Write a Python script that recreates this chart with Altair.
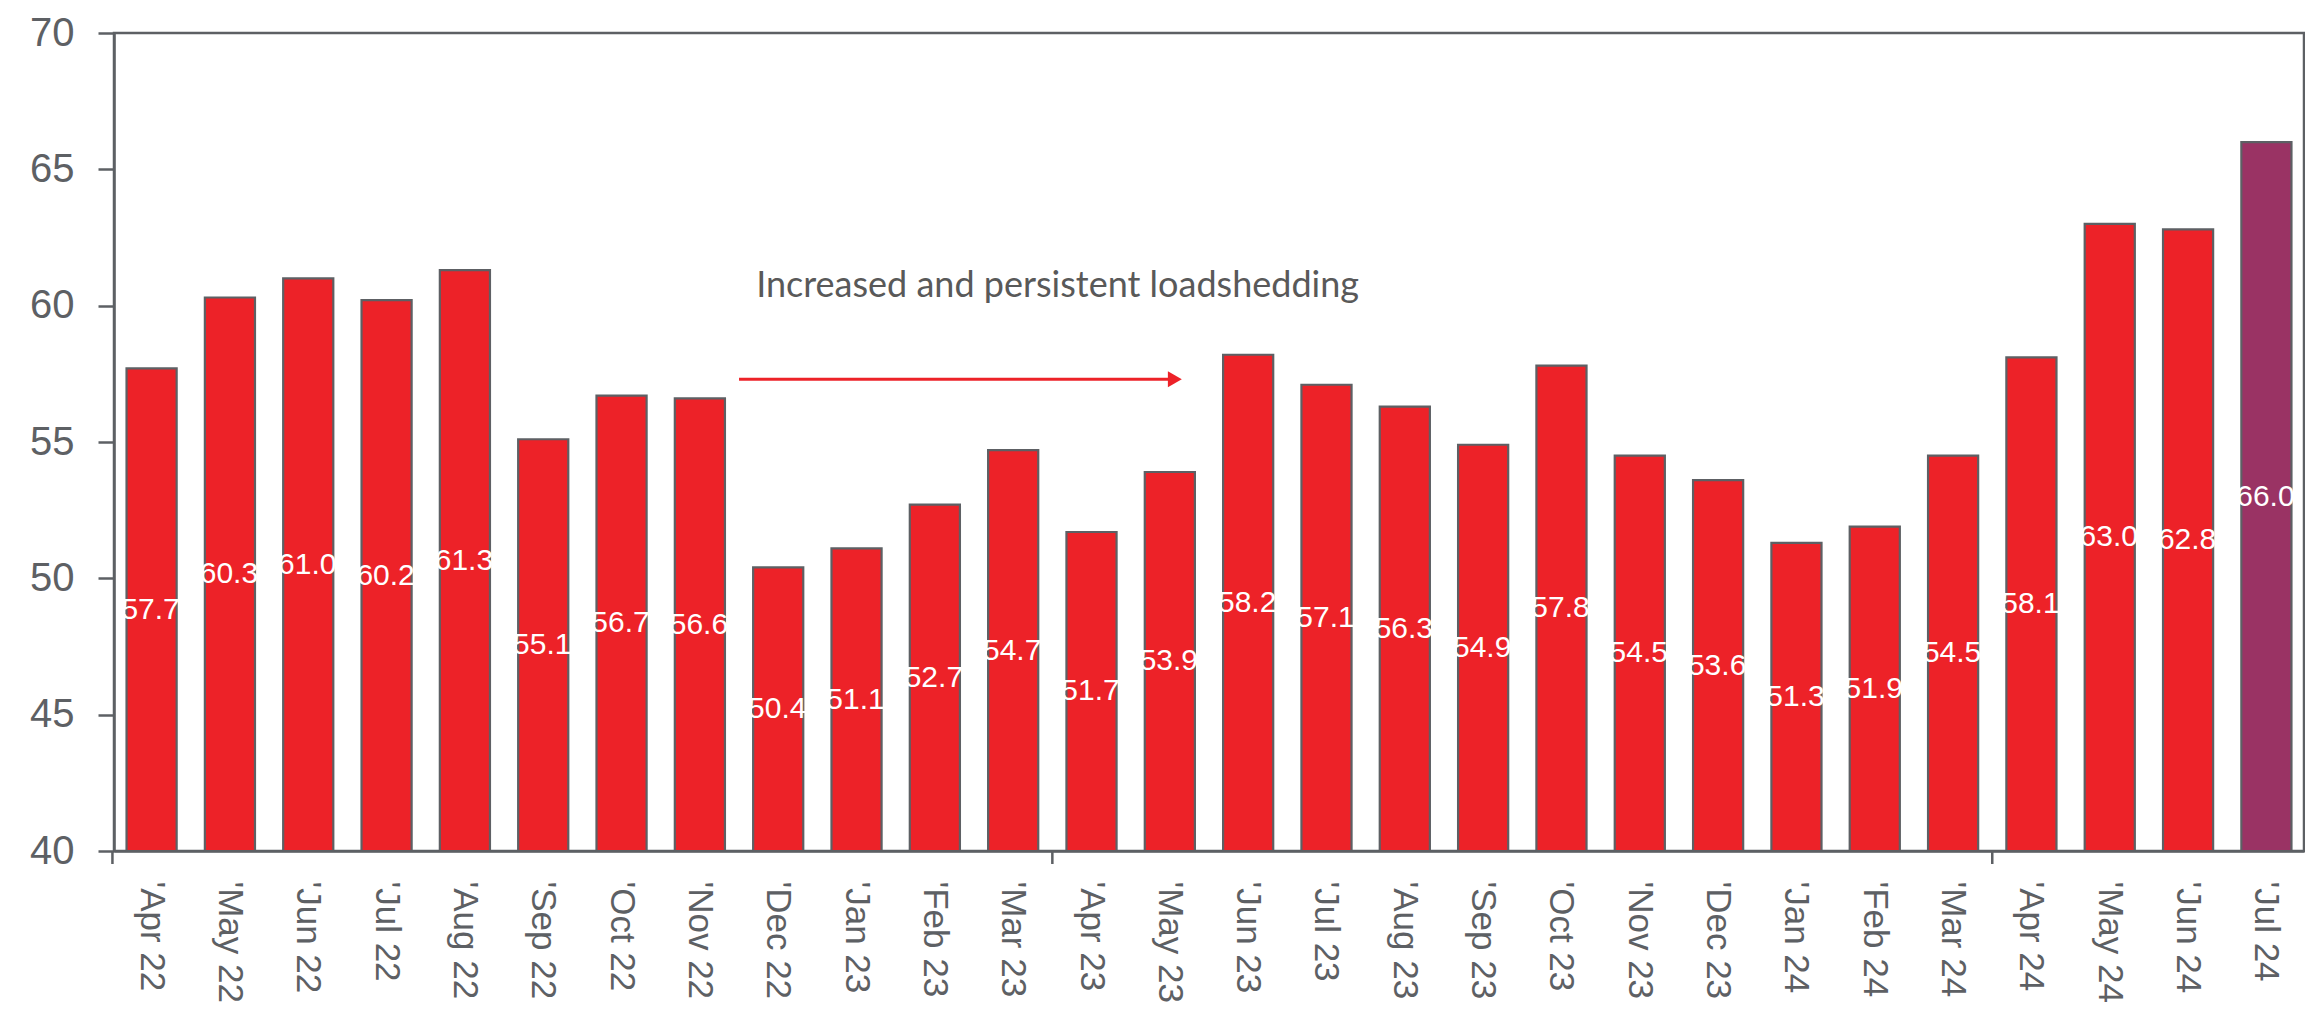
import altair as alt
import pandas as pd

months = ["'Apr 22", "'May 22", "'Jun 22", "'Jul 22", "'Aug 22", "'Sep 22", "'Oct 22", "'Nov 22",
          "'Dec 22", "'Jan 23", "'Feb 23", "'Mar 23", "'Apr 23", "'May 23", "'Jun 23", "'Jul 23",
          "'Aug 23", "'Sep 23", "'Oct 23", "'Nov 23", "'Dec 23", "'Jan 24", "'Feb 24", "'Mar 24",
          "'Apr 24", "'May 24", "'Jun 24", "'Jul 24"]
values = [57.7, 60.3, 61.0, 60.2, 61.3, 55.1, 56.7, 56.6,
          50.4, 51.1, 52.7, 54.7, 51.7, 53.9, 58.2, 57.1,
          56.3, 54.9, 57.8, 54.5, 53.6, 51.3, 51.9, 54.5,
          58.1, 63.0, 62.8, 66.0]
year_starts = ["'Apr 22", "'Apr 23", "'Apr 24"]
y_ticks = [40, 45, 50, 55, 60, 65, 70]
baseline = 40

annotation_text = ["Increased and persistent loadshedding"]
annotation_month = ["'Dec 22"]
annotation_y = [60.3]
arrow_start = ["'Dec 22"]
arrow_end = ["'May 23"]
arrow_y = [57.3]

RED = "#ED2228"
PURPLE = "#9A3364"
GREY = "#5D6064"
W, H = 2190, 818
PAD_INNER = 0.36
PAD_OUTER = 0.16
STEP = W / (len(months) - PAD_INNER + 2 * PAD_OUTER)
GAP_PX = -PAD_INNER * STEP / 2  # from bar's left edge back to band boundary

df = pd.DataFrame({
    "month": months,
    "value": values,
    "kind": ["base"] * (len(months) - 1) + ["latest"],
})
df["base"] = baseline

xscale = alt.Scale(domain=months, paddingInner=PAD_INNER, paddingOuter=PAD_OUTER)
yscale = alt.Scale(domain=[40, 70], nice=False, zero=False)

xenc = alt.X("month:N", scale=xscale, sort=months,
             axis=alt.Axis(title=None, ticks=False, labelAngle=90, labelFontSize=35,
                           labelFont="Liberation Sans", labelColor=GREY, labelPadding=30,
                           labelOverlap=False, domainColor=GREY, domainWidth=2.5,
                           labelBaseline="middle", labelAlign="left"))
yaxis = alt.Axis(title=None, values=y_ticks, grid=False, tickSize=16, tickWidth=2.5,
                 tickColor=GREY, domainColor=GREY, domainWidth=2.5, labelFontSize=40,
                 labelFont="Liberation Sans", labelColor=GREY, labelPadding=24)

bars = alt.Chart(df).mark_bar(stroke=GREY, strokeWidth=2.2).encode(
    x=xenc,
    y=alt.Y("value:Q", scale=yscale, axis=yaxis),
    y2="base:Q",
    color=alt.Color("kind:N", scale=alt.Scale(domain=["base", "latest"], range=[RED, PURPLE]),
                    legend=None),
)

labels = alt.Chart(df).transform_calculate(
    mid="(datum.value + datum.base) / 2"
).mark_text(color="white", fontSize=30, font="Liberation Sans", baseline="middle", dx=-1).encode(
    x=alt.X("month:N", scale=xscale, sort=months),
    y=alt.Y("mid:Q", scale=yscale),
    text=alt.Text("value:Q", format=".1f"),
)

tick_df = pd.DataFrame({"month": year_starts})
year_ticks = alt.Chart(tick_df).mark_rule(color=GREY, strokeWidth=2.5, xOffset=GAP_PX).encode(
    x=alt.X("month:N", scale=xscale, sort=months, bandPosition=0),
    y=alt.value(H),
    y2=alt.value(H + 13),
)

ann_df = pd.DataFrame({"month": annotation_month, "y": annotation_y, "text": annotation_text})
ann = alt.Chart(ann_df).mark_text(align="left", baseline="alphabetic", fontSize=36,
                                  font="Lato", color="#595959").encode(
    x=alt.X("month:N", scale=xscale, sort=months, bandPosition=0.06),
    y=alt.Y("y:Q", scale=yscale),
    text="text:N",
)

arrow_df = pd.DataFrame({"start": arrow_start, "end": arrow_end, "y": arrow_y})
arrow_line = alt.Chart(arrow_df).mark_rule(color=RED, strokeWidth=3, xOffset=GAP_PX).encode(
    x=alt.X("start:N", scale=xscale, sort=months, bandPosition=0),
    x2=alt.X2("end:N"),
    y=alt.Y("y:Q", scale=yscale),
)
arrow_head = alt.Chart(arrow_df).mark_point(shape="triangle-right", filled=True, color=RED,
                                            size=260, opacity=1).encode(
    x=alt.X("end:N", scale=xscale, sort=months, bandPosition=0.6),
    y=alt.Y("y:Q", scale=yscale),
)

chart = alt.layer(bars, labels, year_ticks, arrow_line, arrow_head, ann).properties(
    width=W, height=H,
    autosize=alt.AutoSizeParams(type="none"),
    padding={"left": 106, "top": 25, "right": 1, "bottom": 153},
).configure_view(stroke=GREY, strokeWidth=2.5)

chart.save("out.html", embed_options={"renderer": "svg", "actions": False})
